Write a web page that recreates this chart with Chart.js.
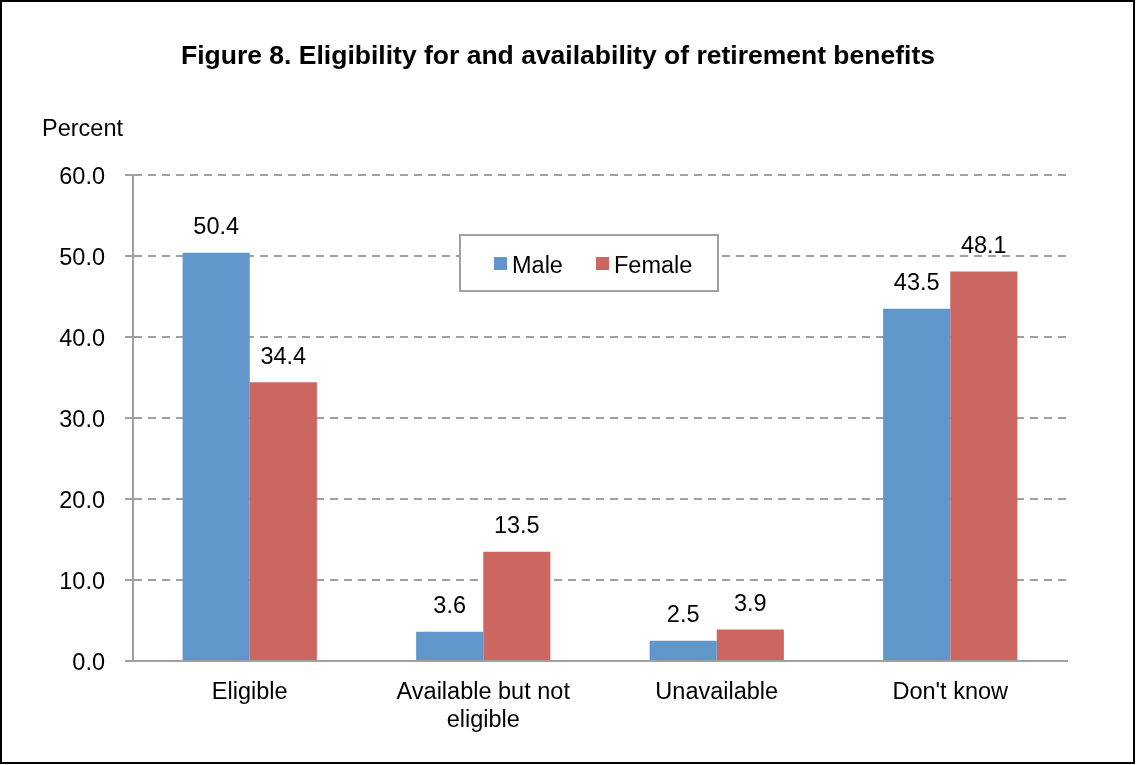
<!DOCTYPE html>
<html>
<head>
<meta charset="utf-8">
<title>Figure 8</title>
<script src="https://cdn.jsdelivr.net/npm/chart.js@4/dist/chart.umd.min.js"></script>
<style>
    html, body { margin: 0; padding: 0; background: #ffffff; }
    #chart { display: block; }
</style>
</head>
<body>
<canvas id="chart" width="1136" height="765"></canvas>
<script>
const categories = ["Eligible", ["Available but not", "eligible"], "Unavailable", "Don't know"];
const maleValues = [50.4, 3.6, 2.5, 43.5];
const femaleValues = [34.4, 13.5, 3.9, 48.1];
const yTicks = [0, 10, 20, 30, 40, 50, 60];
const titleText = "Figure 8. Eligibility for and availability of retirement benefits";

const FONT = "'Liberation Sans', Arial, sans-serif";
const GRID = "#a0a0a0";

// title, frame, y-axis caption, data labels and the boxed legend
const decorations = {
    id: "decorations",
    afterDatasetsDraw(chart) {
        const ctx = chart.ctx;
        ctx.save();

        ctx.fillStyle = "#000";
        ctx.textAlign = "center";
        ctx.textBaseline = "middle";
        ctx.font = `bold 26.5px ${FONT}`;
        ctx.fillText(titleText, 558, 57);

        ctx.font = `23.5px ${FONT}`;
        chart.data.datasets.forEach((ds, di) => {
            chart.getDatasetMeta(di).data.forEach((bar, i) => {
                ctx.fillText(ds.data[i].toFixed(1), bar.x, bar.y - 25);
            });
        });

        ctx.textAlign = "left";
        ctx.fillText("Percent", 42, 130);

        // legend box
        ctx.fillStyle = "#fff";
        ctx.fillRect(460, 235, 258, 56);
        ctx.strokeStyle = "#a0a0a0";
        ctx.lineWidth = 2;
        ctx.strokeRect(460, 235, 258, 56);
        const legendX = [494, 596];
        chart.data.datasets.forEach((ds, di) => {
            ctx.fillStyle = ds.backgroundColor;
            ctx.fillRect(legendX[di], 257, 13, 13);
            ctx.fillStyle = "#000";
            ctx.fillText(ds.label, legendX[di] + 18, 267);
        });

        ctx.strokeStyle = "#000";
        ctx.lineWidth = 2;
        ctx.strokeRect(1, 1, 1133, 762);
        ctx.restore();
    },
};

new Chart(document.getElementById("chart"), {
    type: "bar",
    data: {
        labels: categories,
        datasets: [
            { label: "Male", data: maleValues, backgroundColor: "#6096c9" },
            { label: "Female", data: femaleValues, backgroundColor: "#cc6661" },
        ],
    },
    options: {
        responsive: false,
        animation: false,
        events: [],
        categoryPercentage: 0.575,
        barPercentage: 1.0,
        layout: { padding: { left: 0, right: 69, top: 175, bottom: 0 } },
        plugins: {
            legend: { display: false },
            tooltip: { enabled: false },
            title: { display: false },
        },
        scales: {
            x: {
                grid: { display: false, drawTicks: false },
                border: { display: true, color: GRID, width: 2 },
                ticks: { color: "#000", padding: 17, font: { family: FONT, size: 23.5, lineHeight: 1.2 } },
                afterFit(scale) {
                    scale.height = 104;
                },
            },
            y: {
                min: yTicks[0],
                max: yTicks[yTicks.length - 1],
                afterBuildTicks(scale) {
                    scale.ticks = yTicks.map((v) => ({ value: v }));
                },
                grid: { color: GRID, lineWidth: 2, tickLength: 8, tickColor: GRID },
                border: { display: true, color: GRID, width: 2, dash: [8, 6] },
                ticks: {
                    color: "#000",
                    padding: 20,
                    labelOffset: 3,
                    font: { family: FONT, size: 23.5 },
                    callback: (v) => Number(v).toFixed(1),
                },
                afterFit(scale) {
                    scale.width = 133;
                },
            },
        },
    },
    plugins: [decorations],
});
</script>
</body>
</html>
